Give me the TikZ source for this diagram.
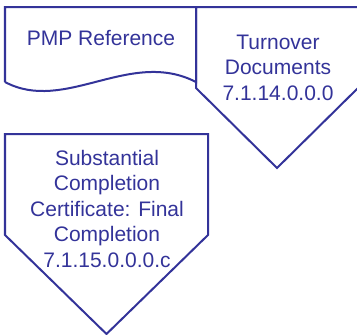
\documentclass[tikz,border=0pt]{standalone}
\usepackage{fontspec}
\setmainfont{Liberation Sans}
\definecolor{navy}{RGB}{51,51,153}
\begin{document}
\begin{tikzpicture}[x=1bp,y=-1bp,
  shapeline/.style={draw=navy,line width=2bp,line join=miter},
  lbl/.style={text=navy,font=\fontsize{21bp}{25.5bp}\selectfont,align=center,inner sep=0pt,anchor=base}]
\useasboundingbox (0,0) rectangle (357,335);
% PMP Reference (document shape)
\draw[shapeline] (5,82) -- (5,7) -- (196,7) -- (196,82)
  .. controls (130,48) and (65,114) .. (5,82);
\node[lbl] (pmp) at (101,45) {PMP Reference};
% Turnover Documents (off-page connector)
\draw[shapeline] (196,7) -- (358,7) -- (358,88) -- (277,168) -- (196,88) -- cycle;
\node[lbl] (turn) at (278,100) {Turnover\\Documents\\7.1.14.0.0.0};
% Substantial Completion (off-page connector)
\draw[shapeline] (5,134) -- (208,134) -- (208,235) -- (106.5,334) -- (5,235) -- cycle;
\node[lbl] (subst) at (107,267) {Substantial\\Completion\\Certificate: Final\\Completion\\7.1.15.0.0.0.c};
\end{tikzpicture}
\end{document}
